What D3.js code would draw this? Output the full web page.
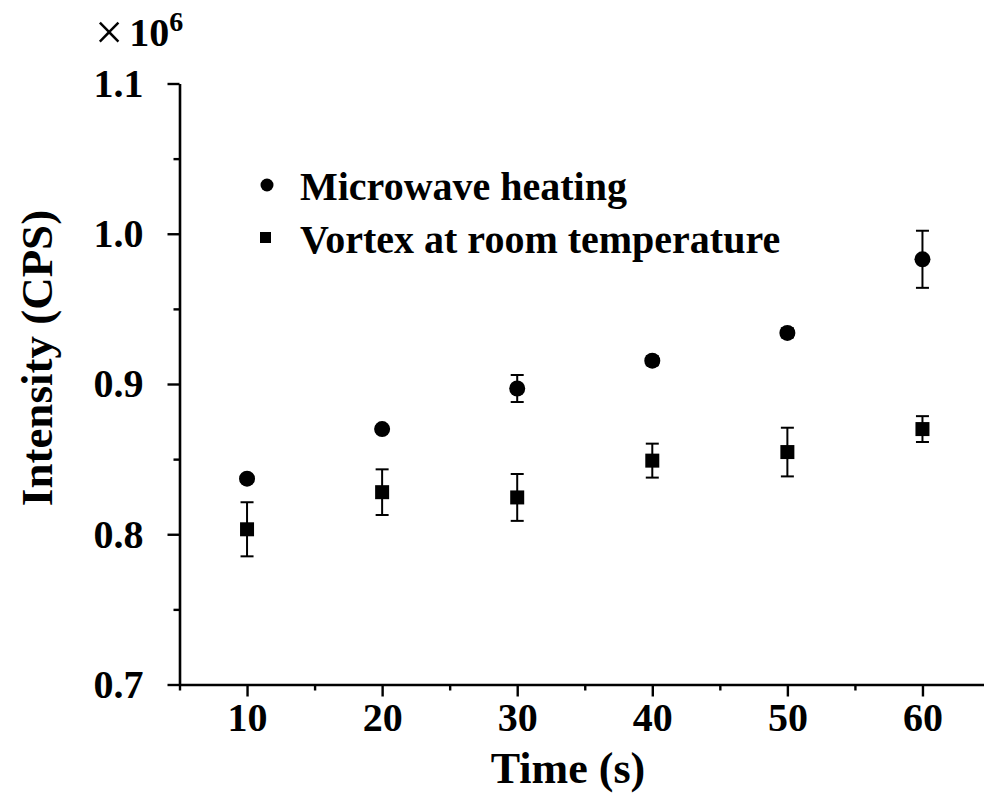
<!DOCTYPE html>
<html><head><meta charset="utf-8">
<script src="https://cdn.jsdelivr.net/npm/d3@7"></script>
<style>
html,body{margin:0;padding:0;background:#fff;}
svg text{font-family:"Liberation Serif","Times New Roman",serif;font-weight:bold;fill:#000;}
</style></head>
<body>
<svg id="chart" width="984" height="794"></svg>
<script>
const times = [10, 20, 30, 40, 50, 60];
const microwave = [0.837, 0.870, 0.897, 0.9155, 0.934, 0.983];
const microwaveErr = [0.002, 0.002, 0.009, 0.003, 0.003, 0.019];
const vortex = [0.8033, 0.828, 0.8245, 0.849, 0.8547, 0.870];
const vortexErr = [0.018, 0.0152, 0.0156, 0.0113, 0.0162, 0.0086];
const xTicks = [10, 20, 30, 40, 50, 60];
const xMinor = [5, 15, 25, 35, 45, 55];
const yTicks = [0.7, 0.8, 0.9, 1.0, 1.1];
const yMinor = [0.75, 0.85, 0.95, 1.05];
const seriesNames = ["Microwave heating", "Vortex at room temperature"];

const svg = d3.select("#chart");
const x = d3.scaleLinear().domain([5, 65]).range([179.5, 990]);
const y = d3.scaleLinear().domain([0.7, 1.1]).range([684.5, 83.5]);

// axes
const gx = svg.append("g").attr("transform", `translate(0,${y(0.7)})`);
gx.call(d3.axisBottom(x).tickValues(xTicks).tickSize(12).tickSizeOuter(0).tickPadding(8).tickFormat(d3.format("d")));
const gxm = svg.append("g").attr("transform", `translate(0,${y(0.7)})`);
gxm.call(d3.axisBottom(x).tickValues(xMinor).tickSize(6).tickSizeOuter(0).tickFormat(""));
gxm.select(".domain").remove();

const gy = svg.append("g").attr("transform", `translate(${x(5)},0)`);
gy.call(d3.axisLeft(y).tickValues(yTicks).tickSize(12).tickSizeOuter(0).tickPadding(24).tickFormat(d3.format(".1f")));
const gym = svg.append("g").attr("transform", `translate(${x(5)},0)`);
gym.call(d3.axisLeft(y).tickValues(yMinor).tickSize(6).tickSizeOuter(0).tickFormat(""));
gym.select(".domain").remove();

svg.selectAll(".domain").attr("stroke", "#000").attr("stroke-width", 2.6);
svg.selectAll(".tick line").attr("stroke", "#000").attr("stroke-width", 2.4);
svg.selectAll(".tick text").style("font-size", "40px").style("font-family", '"Liberation Serif",serif').style("font-weight", "bold");
gx.selectAll(".tick text").attr("dy", "0.71em").attr("y", 18);

// axis titles
svg.append("text").attr("x", 568).attr("y", 783).attr("text-anchor", "middle")
  .style("font-size", "44px").text("Time (s)");
svg.append("text").attr("transform", "translate(52,358) rotate(-90)").attr("text-anchor", "middle")
  .style("font-size", "45px").text("Intensity (CPS)");

// multiplier
const mult = svg.append("text").attr("x", 95).attr("y", 46).style("font-size", "40px");
mult.append("tspan").attr("dy", 3).style("font-size", "50px").style("font-weight", "normal").text("×");
mult.append("tspan").attr("dx", 6).attr("dy", -3).text("10");
mult.append("tspan").attr("dy", -15).style("font-size", "28px").text("6");

// error bars
function errorBars(vals, errs) {
  const g = svg.append("g").attr("stroke", "#000").attr("stroke-width", 2);
  times.forEach((t, i) => {
    const cx = x(t), y1 = y(vals[i] + errs[i]), y2 = y(vals[i] - errs[i]);
    g.append("line").attr("x1", cx).attr("x2", cx).attr("y1", y1).attr("y2", y2);
    g.append("line").attr("x1", cx - 6.5).attr("x2", cx + 6.5).attr("y1", y1).attr("y2", y1);
    g.append("line").attr("x1", cx - 6.5).attr("x2", cx + 6.5).attr("y1", y2).attr("y2", y2);
  });
}
errorBars(microwave, microwaveErr);
errorBars(vortex, vortexErr);

svg.append("g").selectAll("circle").data(times).join("circle")
  .attr("cx", d => x(d)).attr("cy", (d, i) => y(microwave[i])).attr("r", 8).attr("fill", "#000");
svg.append("g").selectAll("rect").data(times).join("rect")
  .attr("x", d => x(d) - 7).attr("y", (d, i) => y(vortex[i]) - 7).attr("width", 14).attr("height", 14).attr("fill", "#000");

// legend
svg.append("circle").attr("cx", 267).attr("cy", 185).attr("r", 6.5).attr("fill", "#000");
svg.append("rect").attr("x", 260).attr("y", 232).attr("width", 11).attr("height", 11).attr("fill", "#000");
svg.append("text").attr("x", 300).attr("y", 200).style("font-size", "40px").text(seriesNames[0]);
svg.append("text").attr("x", 300).attr("y", 253).style("font-size", "40px").text(seriesNames[1]);
</script>
</body></html>
